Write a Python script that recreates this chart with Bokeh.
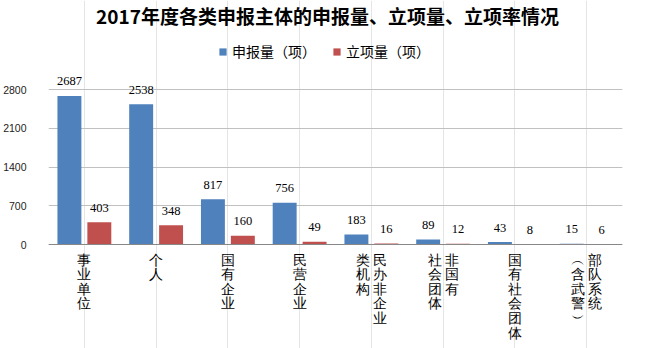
from bokeh.plotting import figure
from bokeh.models import (ColumnDataSource, FactorRange, Range1d, FixedTicker,
                          Legend, LegendItem, LabelSet, Label, Span)
from bokeh.transform import dodge
from bokeh.embed import file_html
from bokeh.resources import INLINE

# ---------------- data ----------------
categories = ["事业单位", "个人", "国有企业", "民营企业", "民办非企业类机构",
              "非国有社会团体", "国有社会团体", "部队系统（含武警）"]
label_columns = [["事业单位"], ["个人"], ["国有企业"], ["民营企业"],
                 ["民办非企业", "类机构"], ["非国有", "社会团体"],
                 ["国有社会团体"], ["部队系统", "（含武警）"]]
applications = [2687, 2538, 817, 756, 183, 89, 43, 15]
approved = [403, 348, 160, 49, 16, 12, 8, 6]
y_ticks = [0, 700, 1400, 2100, 2800]
series_names = ["申报量（项）", "立项量（项）"]
title_text = "2017年度各类申报主体的申报量、立项量、立项率情况"

BLUE = "#4F81BD"
RED = "#C0504D"
CJK = "Noto Sans CJK SC"

source = ColumnDataSource(dict(
    cat=categories,
    applications=applications,
    approved=approved,
    app_txt=[str(v) for v in applications],
    apr_txt=[str(v) for v in approved],
))

# vertical category labels: one entry per character, columns right-to-left
VERT = {"（": "︵", "）": "︶"}
COL_PITCH = 17.0
ROW_PITCH = 14.6
ch_cat, ch_txt, ch_dx, ch_dy = [], [], [], []
for cat, cols in zip(categories, label_columns):
    ncol = len(cols)
    for ci, col in enumerate(cols):
        dx = ((ncol - 1) / 2 - ci) * COL_PITCH
        for ri, ch in enumerate(col):
            ch_cat.append(cat)
            ch_txt.append(VERT.get(ch, ch))
            ch_dx.append(dx)
            ch_dy.append(-(8 + ri * ROW_PITCH))
char_source = ColumnDataSource(dict(cat=ch_cat, txt=ch_txt, dx=ch_dx, dy=ch_dy))

# frame spans the full height 0..348 px; value 0 sits at y=244, 700 units = 38.7 px
H = 348
PX_PER_UNIT = 38.7 / 700
y_start = -(H - 244) / PX_PER_UNIT
y_end = 244 / PX_PER_UNIT

p = figure(width=657, height=H, output_backend="svg", toolbar_location=None,
           x_range=FactorRange(factors=categories, range_padding=0),
           y_range=Range1d(y_start, y_end), x_axis_location=None,
           min_border_left=47, min_border_right=35, min_border_bottom=0,
           min_border_top=0)

# title, drawn in screen units relative to the frame (left=47, bottom=348)
p.add_layout(Label(x=326 - 47, y=H - 15, x_units="screen", y_units="screen",
                   text=title_text, text_align="center", text_baseline="middle",
                   text_font=CJK, text_font_size="19px", text_font_style="bold",
                   text_color="#000000"))

bw = 0.3336
off = 0.2085
r1 = p.vbar(x=dodge("cat", -off, range=p.x_range), top="applications", bottom=0,
            width=bw, source=source, color=BLUE, line_color=None)
r2 = p.vbar(x=dodge("cat", off, range=p.x_range), top="approved", bottom=0,
            width=bw, source=source, color=RED, line_color=None)

for fld, o, top in (("app_txt", -off, "applications"), ("apr_txt", off, "approved")):
    lbl = LabelSet(x=dodge("cat", o, range=p.x_range), y=top, text=fld, source=source,
                   text_align="center", text_baseline="middle", y_offset=14.5,
                   text_font="Liberation Serif", text_font_size="12.5px",
                   text_color="#000000")
    p.add_layout(lbl)

cat_labels = LabelSet(x="cat", y=0, text="txt", x_offset="dx", y_offset="dy",
                      source=char_source, text_align="center", text_baseline="top",
                      text_font=CJK, text_font_size="14px", text_color="#000000")
p.add_layout(cat_labels)

p.add_layout(Span(location=0, dimension="width", line_color="#888888", line_width=1))

legend = Legend(items=[LegendItem(label=series_names[0], renderers=[r1]),
                       LegendItem(label=series_names[1], renderers=[r2])],
                orientation="horizontal", location=(170, 287),
                glyph_width=9, glyph_height=9, label_standoff=5, spacing=16,
                padding=2, margin=0, border_line_color=None,
                background_fill_alpha=0,
                label_text_font=CJK, label_text_font_size="14px",
                label_text_color="#000000")
p.add_layout(legend)

p.outline_line_color = None
p.ygrid.ticker = FixedTicker(ticks=y_ticks)
p.ygrid.grid_line_color = "#c0c0c0"

p.yaxis.ticker = FixedTicker(ticks=y_ticks)
p.yaxis.axis_line_color = None
p.yaxis.major_tick_line_color = None
p.yaxis.minor_tick_line_color = None
p.yaxis.major_label_standoff = 16
p.yaxis.major_label_text_font = "Liberation Sans"
p.yaxis.major_label_text_font_size = "10.5px"
p.yaxis.major_label_text_color = "#222222"

open("out.html", "w").write(file_html(p, INLINE))
